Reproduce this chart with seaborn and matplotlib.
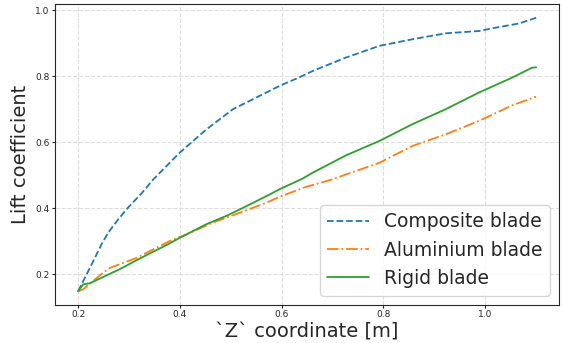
import numpy as np
import pandas as pd
import matplotlib
matplotlib.use("Agg")
import matplotlib.pyplot as plt
import seaborn as sns

# values
z_composite = [0.20, 0.22, 0.233, 0.246, 0.259, 0.279, 0.298, 0.325, 0.348, 0.40,
               0.452, 0.504, 0.543, 0.596, 0.635, 0.661, 0.727, 0.792, 0.857, 0.922,
               0.988, 1.02, 1.067, 1.10]
cl_composite = [0.149, 0.21, 0.25, 0.291, 0.326, 0.367, 0.402, 0.446, 0.488, 0.569,
                0.639, 0.70, 0.73, 0.771, 0.797, 0.816, 0.857, 0.892, 0.912, 0.930,
                0.937, 0.947, 0.960, 0.977]

z_aluminium = [0.20, 0.21, 0.249, 0.263, 0.315, 0.348, 0.38, 0.413, 0.465, 0.518, 0.57,
               0.596, 0.648, 0.70, 0.727, 0.792, 0.857, 0.922, 0.988, 1.053, 1.10]
cl_aluminium = [0.149, 0.155, 0.205, 0.22, 0.25, 0.276, 0.301, 0.321, 0.357, 0.387, 0.417,
                0.435, 0.465, 0.488, 0.503, 0.538, 0.589, 0.624, 0.665, 0.712, 0.738]

z_rigid = [0.20, 0.21, 0.223, 0.249, 0.282, 0.315, 0.348, 0.38, 0.40, 0.452, 0.491,
           0.518, 0.57, 0.596, 0.641, 0.661, 0.727, 0.792, 0.857, 0.922, 0.988, 1.053,
           1.092, 1.10]
cl_rigid = [0.149, 0.17, 0.173, 0.192, 0.216, 0.243, 0.269, 0.294, 0.311, 0.352, 0.377,
            0.397, 0.437, 0.458, 0.49, 0.508, 0.561, 0.604, 0.655, 0.70, 0.751, 0.796,
            0.826, 0.827]

series = [
    ("Composite blade", z_composite, cl_composite, "#1f77b4", "--"),
    ("Aluminium blade", z_aluminium, cl_aluminium, "#ff7f0e", "-."),
    ("Rigid blade", z_rigid, cl_rigid, "#2ca02c", "-"),
]

sns.set_style("ticks")
fig, ax = plt.subplots(figsize=(5.63, 3.43), dpi=100)
fig.subplots_adjust(left=0.098, right=0.993, bottom=0.111, top=0.988)

for name, z, cl, color, ls in series:
    df = pd.DataFrame({"z": z, "cl": cl})
    sns.lineplot(data=df, x="z", y="cl", ax=ax, color=color, linestyle=ls,
                 linewidth=1.3, label=name)

ax.grid(True, linestyle="--", color="#dddddd", linewidth=0.8)
ax.set_xticks([0.2, 0.4, 0.6, 0.8, 1.0])
ax.set_yticks([0.2, 0.4, 0.6, 0.8, 1.0])
ax.tick_params(labelsize=6.5, length=2, pad=2)
ax.set_xlabel("`Z` coordinate [m]", fontsize=14, labelpad=2)
ax.set_ylabel("Lift coefficient", fontsize=14, labelpad=4)
ax.legend(loc="lower right", fontsize=13.5, handlelength=2.2)

plt.savefig("out.png", dpi=100)
